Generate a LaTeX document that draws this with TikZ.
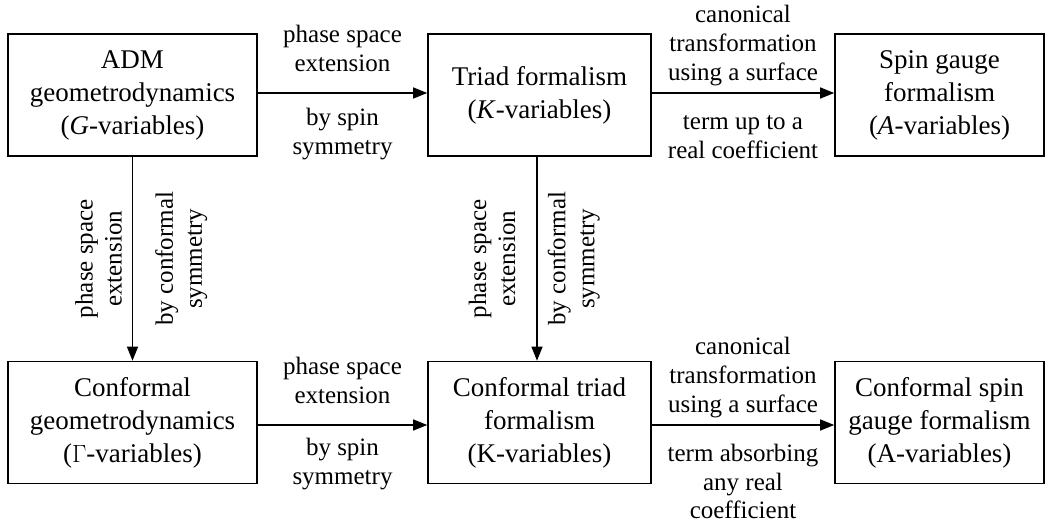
\documentclass[tikz,border=0pt]{standalone}
\usepackage{fontspec}
\setmainfont{Liberation Serif}
\usetikzlibrary{arrows.meta}
\begin{document}
\begin{tikzpicture}[x=1pt,y=1pt,
  box/.style={draw, line width=1.6pt, minimum height=122pt, inner sep=0pt, align=center,
    font=\fontsize{27}{33}\selectfont},
  arr/.style={line width=1.3pt, -{Triangle[length=14pt,width=11pt]}},
  lab/.style={align=center, font=\fontsize{25}{29}\selectfont, inner sep=9pt}]
\useasboundingbox (0,0) rectangle (1052,525);
\node[box, minimum width=249pt] (adm) at (132.5,430) {ADM\\geometrodynamics\\(\textit{G}-variables)};
\node[box, minimum width=223pt] (triad) at (539.5,430) {Triad formalism\\(\textit{K}-variables)};
\node[box, minimum width=209pt] (spin) at (939.5,430) {Spin gauge\\formalism\\(\textit{A}-variables)};
\node[box, minimum width=249pt] (cgeo) at (132.5,102.5) {Conformal\\geometrodynamics\\($\Gamma$-variables)};
\node[box, minimum width=223pt] (ctriad) at (539.5,102.5) {Conformal triad\\formalism\\(K-variables)};
\node[box, minimum width=209pt] (cspin) at (939.5,102.5) {Conformal spin\\gauge formalism\\(A-variables)};
\draw[arr] (adm.east |- 0,432) -- (triad.west |- 0,432)
  node[lab, midway, above, inner sep=21pt] {phase space\\extension}
  node[lab, midway, below, inner sep=15pt] {by spin\\symmetry};
\draw[arr] (triad.east |- 0,432) -- (spin.west |- 0,432)
  node[lab, midway, above, inner sep=6pt] {canonical\\transformation\\using a surface}
  node[lab, midway, below, inner sep=22pt] {term up to a\\real coefficient};
\draw[arr] (cgeo.east |- 0,100) -- (ctriad.west |- 0,100)
  node[lab, midway, above, inner sep=21pt] {phase space\\extension}
  node[lab, midway, below, inner sep=13pt] {by spin\\symmetry};
\draw[arr] (ctriad.east |- 0,100) -- (cspin.west |- 0,100)
  node[lab, midway, above, inner sep=6pt] {canonical\\transformation\\using a surface}
  node[lab, midway, below, inner sep=19pt, font=\fontsize{25}{28.5}\selectfont] {term absorbing\\any real\\coefficient};
\draw[arr] (adm.south) -- (cgeo.north)
  node[lab, midway, rotate=90, anchor=south, inner sep=10pt] {phase space\\extension}
  node[lab, midway, rotate=90, anchor=north, inner sep=22pt] {by conformal\\symmetry};
\draw[arr] (triad.south -| 537,0) -- (ctriad.north -| 537,0)
  node[lab, midway, rotate=90, anchor=south, inner sep=21pt] {phase space\\extension}
  node[lab, midway, rotate=90, anchor=north, inner sep=10pt] {by conformal\\symmetry};
\end{tikzpicture}
\end{document}
